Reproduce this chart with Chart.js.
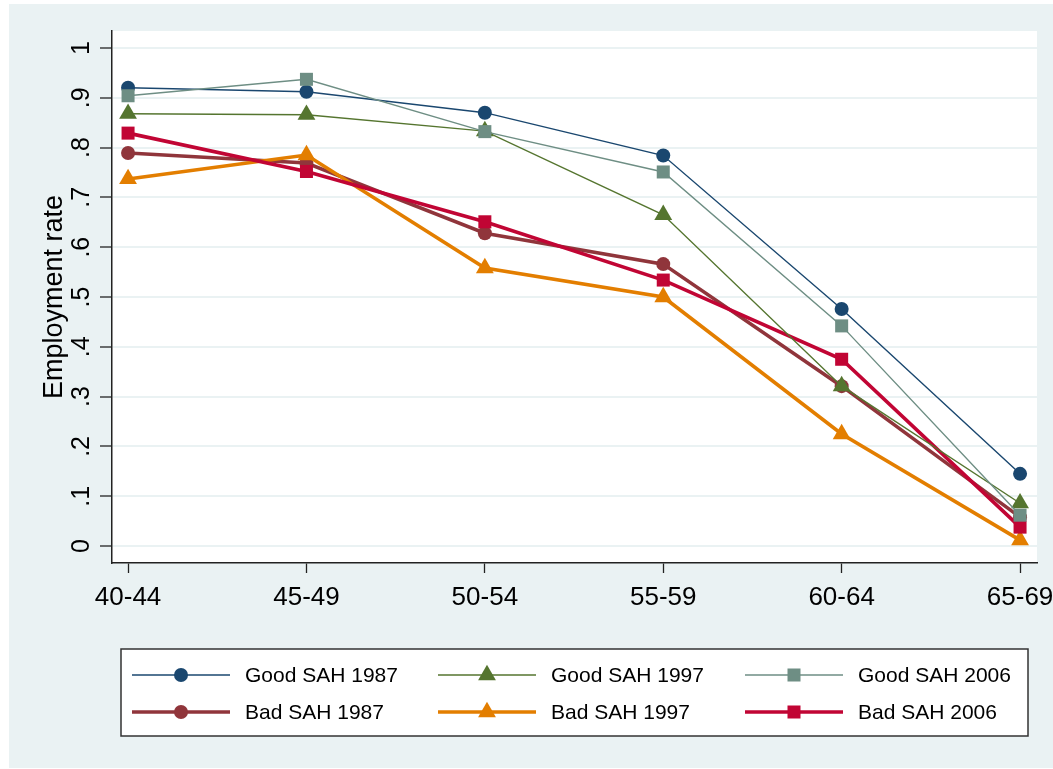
<!DOCTYPE html>
<html><head><meta charset="utf-8">
<script src="https://cdn.jsdelivr.net/npm/chart.js@4.4.1/dist/chart.umd.min.js"></script>
<style>html,body{margin:0;padding:0;background:#fff;} canvas{display:block;}</style>
</head><body>
<canvas id="c" width="1053" height="769"></canvas>
<script>
const ageGroups = ['40-44','45-49','50-54','55-59','60-64','65-69'];
const goodSAH1987 = [0.920,0.912,0.870,0.784,0.476,0.145];
const goodSAH1997 = [0.868,0.866,0.833,0.665,0.321,0.086];
const goodSAH2006 = [0.904,0.937,0.832,0.751,0.442,0.062];
const badSAH1987  = [0.789,0.769,0.628,0.566,0.321,0.058];
const badSAH1997  = [0.737,0.785,0.558,0.500,0.225,0.012];
const badSAH2006  = [0.829,0.752,0.651,0.534,0.375,0.038];
const yTickLabels = ['0','.1','.2','.3','.4','.5','.6','.7','.8','.9','1'];
const seriesLabels = ['Good SAH 1987','Good SAH 1997','Good SAH 2006','Bad SAH 1987','Bad SAH 1997','Bad SAH 2006'];
const yTitle = 'Employment rate';

const FONT = "'Liberation Sans', Arial, Helvetica, sans-serif";
const BG = '#eaf2f3';

function pts(arr){ return arr.map((v,i)=>({x:i, y:v})); }

const styles = [
  {c:'#1a476f', w:1.4, ps:'circle',   r:7,    o:3},
  {c:'#55752f', w:1.4, ps:'triangle', r:10.3, o:2},
  {c:'#6e8e84', w:1.4, ps:'rect',     r:9.2,  o:1},
  {c:'#90353b', w:3.6, ps:'circle',   r:7,    o:6},
  {c:'#e37e00', w:3.6, ps:'triangle', r:10.3, o:5},
  {c:'#c10534', w:3.6, ps:'rect',     r:9.2,  o:4}
];
const seriesData = [goodSAH1987, goodSAH1997, goodSAH2006, badSAH1987, badSAH1997, badSAH2006];

const datasets = seriesData.map((d,i)=>({
  label: seriesLabels[i],
  data: pts(d),
  borderColor: styles[i].c,
  backgroundColor: styles[i].c,
  borderWidth: styles[i].w,
  pointStyle: styles[i].ps,
  pointRadius: styles[i].r,
  pointBackgroundColor: styles[i].c,
  pointBorderWidth: 0,
  pointHoverRadius: styles[i].r,
  tension: 0,
  order: styles[i].o,
  clip: false
}));

const bgPlugin = {
  id: 'bg',
  beforeDraw(chart){
    const ctx = chart.ctx, a = chart.chartArea;
    ctx.save();
    ctx.fillStyle = '#ffffff';
    ctx.fillRect(0,0,chart.width,chart.height);
    ctx.fillStyle = BG;
    ctx.fillRect(9,4,chart.width-9,chart.height-5);
    ctx.fillStyle = '#ffffff';
    ctx.fillRect(a.left, a.top, a.right-a.left, a.bottom-a.top);
    ctx.restore();
  }
};

const legendPlugin = {
  id: 'stataLegend',
  afterDraw(chart){
    const ctx = chart.ctx;
    const box = {x:121, y:649, w:907, h:87};
    ctx.save();
    ctx.fillStyle = '#ffffff';
    ctx.fillRect(box.x, box.y, box.w, box.h);
    ctx.strokeStyle = '#333333';
    ctx.lineWidth = 1.5;
    ctx.strokeRect(box.x, box.y, box.w, box.h);
    const colX = [132, 438, 745];
    const rowY = [675, 712];
    chart.data.datasets.forEach((ds,i)=>{
      const x0 = colX[i%3], y = rowY[Math.floor(i/3)];
      ctx.strokeStyle = ds.borderColor;
      ctx.lineWidth = ds.borderWidth;
      ctx.beginPath(); ctx.moveTo(x0, y); ctx.lineTo(x0+98, y); ctx.stroke();
      ctx.fillStyle = ds.pointBackgroundColor;
      Chart.helpers.drawPoint(ctx, {pointStyle: ds.pointStyle, radius: ds.pointRadius, rotation: 0, borderWidth: 0}, x0+49, y);
      ctx.fillStyle = '#000000';
      ctx.font = '21px ' + FONT;
      ctx.textBaseline = 'middle';
      ctx.textAlign = 'left';
      ctx.fillText(ds.label, x0+113, y+1);
    });
    ctx.restore();
  }
};

const layoutPadding = { left: 0, top: 31, right: 16, bottom: 0 };

const chart = new Chart(document.getElementById('c'), {
  type: 'line',
  data: { datasets },
  options: {
    responsive: false,
    devicePixelRatio: 1,
    animation: false,
    events: [],
    layout: { autoPadding: false, padding: layoutPadding },
    plugins: { legend: { display: false }, tooltip: { enabled: false } },
    scales: {
      x: {
        type: 'linear',
        min: -0.09, max: 5.095,
        afterFit(s){ s.height = 206; s.paddingLeft = 0; s.paddingRight = 0; },
        border: { display: true, color: '#222', width: 1.5 },
        grid: { display: true, drawOnChartArea: false, drawTicks: true, tickLength: 10, tickColor: '#222', tickWidth: 1.3 },
        ticks: {
          stepSize: 1, includeBounds: false, autoSkip: false, maxRotation: 0, minRotation: 0,
          padding: 9, color: '#000', font: { family: FONT, size: 26 },
          callback: (v) => ageGroups[Math.round(v)] ?? ''
        }
      },
      y: {
        type: 'linear',
        min: -0.034, max: 1.034,
        afterFit(s){ s.width = 112; s.paddingTop = 0; s.paddingBottom = 0; },
        border: { display: true, color: '#222', width: 1.5 },
        grid: { display: true, drawOnChartArea: true, color: BG, lineWidth: 2, drawTicks: true, tickLength: 12, tickColor: '#222', tickWidth: 1.3 },
        title: { display: true, text: yTitle, color: '#000', font: { family: FONT, size: 27 }, padding: { top: 38, bottom: 0 } },
        ticks: {
          stepSize: 0.1, includeBounds: false, minRotation: 90, maxRotation: 90,
          crossAlign: 'center', padding: 7, color: '#000', font: { family: FONT, size: 25 },
          callback: (v) => yTickLabels[Math.round(v*10)] ?? ''
        }
      }
    }
  },
  plugins: [bgPlugin, legendPlugin]
});

// Nudge layout padding so the plot area lands where the reference has it
(function fitArea(){
  const target = {left:112, right:1037, top:31, bottom:563};
  for (let k = 0; k < 4; k++) {
    const a = chart.chartArea;
    const dr = a.right - target.right, dl = target.left - a.left;
    const dt = target.top - a.top, db = a.bottom - target.bottom;
    if (Math.abs(dr) < 0.5 && Math.abs(dl) < 0.5 && Math.abs(dt) < 0.5 && Math.abs(db) < 0.5) break;
    layoutPadding.right += dr; layoutPadding.left += dl;
    layoutPadding.top += dt; layoutPadding.bottom += db;
    chart.options.layout.padding = Object.assign({}, layoutPadding);
    chart.update();
  }
})();
</script>
</body></html>
